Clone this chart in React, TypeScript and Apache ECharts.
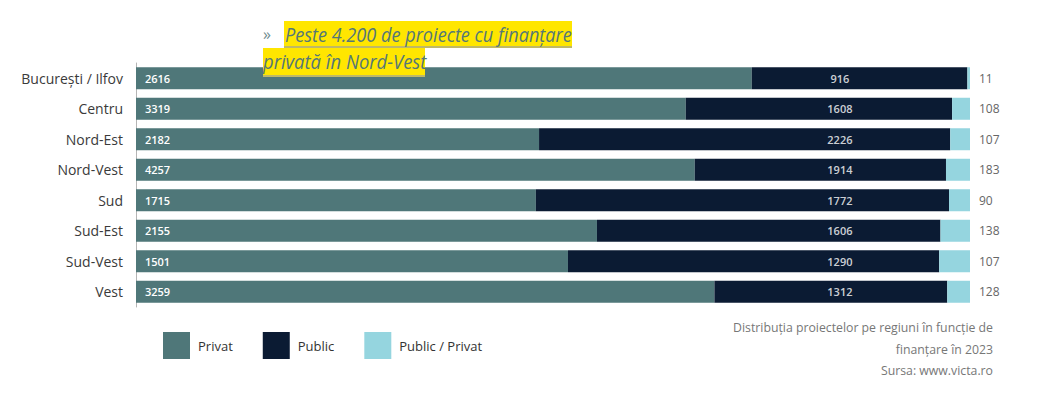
import React, { useEffect, useRef } from "react";
import * as echarts from "echarts";

const categories = ["București / Ilfov", "Centru", "Nord-Est", "Nord-Vest", "Sud", "Sud-Est", "Sud-Vest", "Vest"];
const privat = [2616, 3319, 2182, 4257, 1715, 2155, 1501, 3259];
const publicV = [916, 1608, 2226, 1914, 1772, 1606, 1290, 1312];
const mixt = [11, 108, 107, 183, 90, 138, 107, 128];
const seriesNames = ["Privat", "Public", "Public / Privat"];
const titleLines = ["Peste 4.200 de proiecte cu finanțare", "privată în Nord-Vest"];
const sourceLines = ["Distribuția proiectelor pe regiuni în funcție de", "finanțare în 2023", "Sursa: www.victa.ro"];
const publicLabelPos = 84.4;

const COLORS = ["#4f7779", "#0b1b33", "#95d5df"];
const FONT = "'Open Sans', 'Noto Sans', sans-serif";

export default function App() {
  const ref = useRef<HTMLDivElement>(null);
  useEffect(() => {
    if (!ref.current) return;
    const chart = echarts.init(ref.current, undefined, { renderer: "svg" });
    const totals = categories.map((_, i) => privat[i] + publicV[i] + mixt[i]);
    const pct = (arr: number[]) => arr.map((v, i) => (v / totals[i]) * 100);
    const raw = [privat, publicV, mixt];

    const barBase = {
      type: "bar",
      stack: "total",
      barWidth: 22,
      animation: false,
    };

    const titleText = (t: string, x: number, y: number, sx: number) => ({
      type: "group",
      x,
      y,
      scaleX: sx,
      z: 22,
      children: [
        {
          type: "text",
          z: 22,
          style: {
            text: t,
            fontSize: 20.5,
            fontStyle: "italic",
            fontWeight: 500,
            fill: "#557778",
            fontFamily: FONT,
            verticalAlign: "middle",
          },
        },
      ],
    });

    chart.setOption({
      animation: false,
      textStyle: { fontFamily: FONT },
      grid: { left: 136, right: 80, top: 63, bottom: 87 },
      xAxis: { type: "value", min: 0, max: 100, show: false },
      yAxis: {
        type: "category",
        data: categories,
        inverse: true,
        axisLine: { show: true, lineStyle: { color: "#b5b5b5", width: 1 } },
        axisTick: { show: false },
        axisLabel: { fontSize: 14, color: "#3a3a3a", margin: 13, fontFamily: FONT },
      },
      legend: {
        data: seriesNames,
        left: 163,
        top: 332,
        padding: 0,
        itemWidth: 27,
        itemHeight: 27,
        itemGap: 30,
        icon: "rect",
        textStyle: { fontSize: 13, color: "#333", fontFamily: FONT, padding: [0, 0, 0, 3] },
        selectedMode: false,
      },
      series: [
        {
          ...barBase,
          name: seriesNames[0],
          data: pct(privat),
          itemStyle: { color: COLORS[0] },
          label: {
            show: true,
            position: "insideLeft",
            distance: 9,
            color: "#fff",
            fontSize: 11,
            fontWeight: 600,
            fontFamily: FONT,
            formatter: (p: any) => String(raw[0][p.dataIndex]),
          },
        },
        {
          ...barBase,
          name: seriesNames[1],
          data: pct(publicV),
          itemStyle: { color: COLORS[1] },
        },
        {
          ...barBase,
          name: seriesNames[2],
          data: pct(mixt),
          itemStyle: { color: COLORS[2] },
          label: {
            show: true,
            position: "right",
            distance: 9,
            color: "#666",
            fontSize: 12,
            fontFamily: FONT,
            formatter: (p: any) => String(raw[2][p.dataIndex]),
          },
        },
        {
          type: "scatter",
          name: "publicLabels",
          data: categories.map((c, i) => [publicLabelPos, c, publicV[i]]),
          symbolSize: 0,
          silent: true,
          z: 5,
          label: {
            show: true,
            position: "inside",
            color: "#fff",
            fontSize: 11,
            fontWeight: 600,
            fontFamily: FONT,
            formatter: (p: any) => String(p.value[2]),
          },
        },
      ],
      graphic: [
        {
          type: "group",
          z: 20,
          children: [
            { type: "rect", shape: { x: 284, y: 21, width: 288, height: 27 }, style: { fill: "#ffe600" }, z: 20 },
            { type: "rect", shape: { x: 263, y: 48, width: 162, height: 29 }, style: { fill: "#ffe600" }, z: 20 },
            { type: "line", shape: { x1: 284, y1: 47, x2: 572, y2: 47 }, style: { stroke: "#a9a98a", lineWidth: 1.5 }, z: 21 },
            { type: "line", shape: { x1: 263, y1: 76, x2: 425, y2: 76 }, style: { stroke: "#a9a98a", lineWidth: 1.5 }, z: 21 },
            {
              type: "text",
              x: 263,
              y: 34,
              z: 22,
              style: { text: "»", fontSize: 16, fill: "#6f8c8e", fontFamily: FONT, verticalAlign: "middle" },
            },
            titleText(titleLines[0], 285, 34, 0.885),
            titleText(titleLines[1], 263, 61, 0.9),
          ],
        },
        {
          type: "group",
          x: 993,
          y: 0,
          scaleX: 0.91,
          children: sourceLines.map((t, i) => ({
            type: "text",
            x: 0,
            y: 327 + i * 21.5,
            style: {
              text: t,
              fontSize: 13.5,
              fill: "#777",
              fontFamily: FONT,
              align: "right",
              verticalAlign: "middle",
            },
          })),
        },
      ],
    });
    return () => chart.dispose();
  }, []);
  return <div ref={ref} style={{ position: "absolute", left: 0, top: 0, width: 1050, height: 394 }} />;
}
